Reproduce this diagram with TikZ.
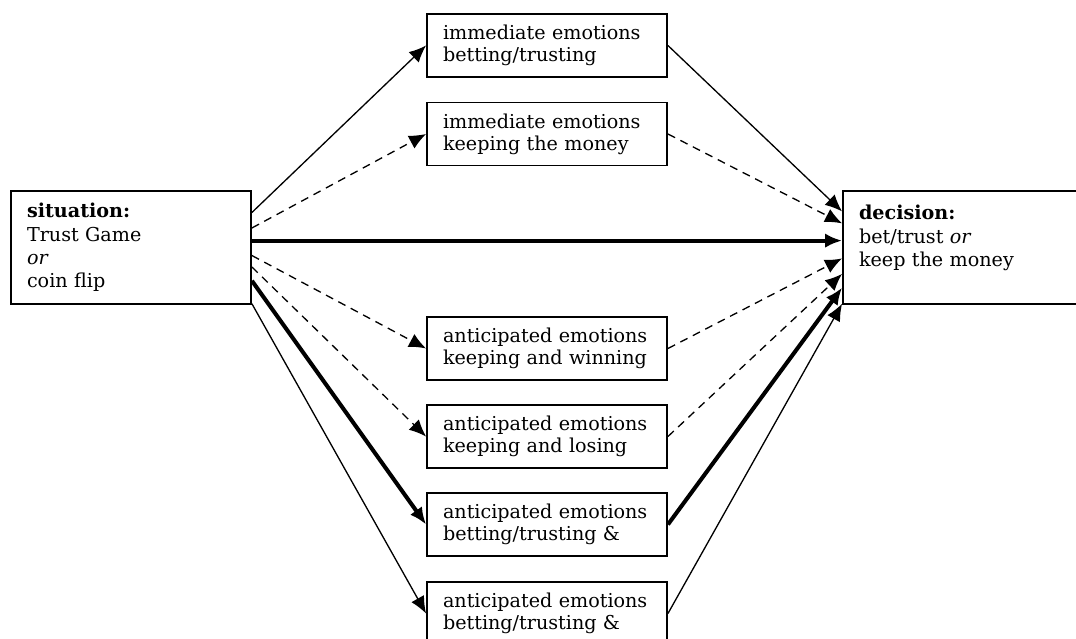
\documentclass[tikz,border=0pt]{standalone}
\usepackage{fontspec}
\setmainfont{DejaVu Serif}
\usetikzlibrary{arrows.meta, calc}

\tikzset{
  box/.style={draw, line width=1.1pt, rectangle, align=left, text width=4.16cm,
    inner xsep=0.32cm, inner ysep=0pt, minimum height=1.26cm,
    font=\fontsize{10.9}{12.6}\selectfont},
  bigbox/.style={box, minimum height=2.26cm, font=\fontsize{10.9}{13.2}\selectfont},
  plainarrow/.style={-{Latex[length=0.34cm,width=0.29cm]}, line width=0.75pt},
  dasharrow/.style={plainarrow, dash pattern=on 0.16cm off 0.12cm},
  heavyarrow/.style={plainarrow, line width=2.3pt}
}

\begin{document}
\begin{tikzpicture}[x=0.02cm, y=-0.02cm]
\clip (0,0) rectangle (1076,639);

\node (sit) at (131,247.5) [bigbox] {\textbf{situation:}\\Trust Game\\\emph{or}\\coin flip};
\node (dec) at (963,247.5) [bigbox] {\textbf{decision:}\\bet/trust \emph{or}\\keep the money\\\mbox{}};

\node (ibet) at (547,45.5) [box] {immediate emotions\\betting/trusting};
\node (ikeep) at (547,134) [box] {immediate emotions\\keeping the money};
\node (akwin) at (547,348.5) [box] {anticipated emotions\\keeping and winning};
\node (aklose) at (547,436.5) [box] {anticipated emotions\\keeping and losing};
\node (abwin) at (547,524.5) [box] {anticipated emotions\\betting/trusting \&};
\node (ablose) at (547,613.5) [box] {anticipated emotions\\betting/trusting \&};

% points on the right side of the situation box
\coordinate (s1) at ($(sit.north east)!0.195!(sit.south east)$);
\coordinate (s2) at ($(sit.north east)!0.33!(sit.south east)$);
\coordinate (s3) at ($(sit.north east)!0.44!(sit.south east)$);
\coordinate (s4) at ($(sit.north east)!0.57!(sit.south east)$);
\coordinate (s5) at ($(sit.north east)!0.67!(sit.south east)$);
\coordinate (s6) at ($(sit.north east)!0.79!(sit.south east)$);
\coordinate (s7) at ($(sit.north east)!0.99!(sit.south east)$);

% points on the left side of the decision box
\coordinate (d1) at ($(dec.north west)!0.186!(dec.south west)$);
\coordinate (d2) at ($(dec.north west)!0.29!(dec.south west)$);
\coordinate (d3) at ($(dec.north west)!0.44!(dec.south west)$);
\coordinate (d4) at ($(dec.north west)!0.595!(dec.south west)$);
\coordinate (d5) at ($(dec.north west)!0.73!(dec.south west)$);
\coordinate (d6) at ($(dec.north west)!0.85!(dec.south west)$);
\coordinate (d7) at ($(dec.north west)!0.99!(dec.south west)$);

\draw[plainarrow] (s1) -- (ibet.west);
\draw[dasharrow] (s2) -- (ikeep.west);
\draw[heavyarrow] (s3) -- (d3);
\draw[dasharrow] (s4) -- (akwin.west);
\draw[dasharrow] (s5) -- (aklose.west);
\draw[heavyarrow] (s6) -- (abwin.west);
\draw[plainarrow] (s7) -- (ablose.west);

\draw[plainarrow] (ibet.east) -- (d1);
\draw[dasharrow] (ikeep.east) -- (d2);
\draw[dasharrow] (akwin.east) -- (d4);
\draw[dasharrow] (aklose.east) -- (d5);
\draw[heavyarrow] (abwin.east) -- (d6);
\draw[plainarrow] (ablose.east) -- (d7);
\end{tikzpicture}
\end{document}
